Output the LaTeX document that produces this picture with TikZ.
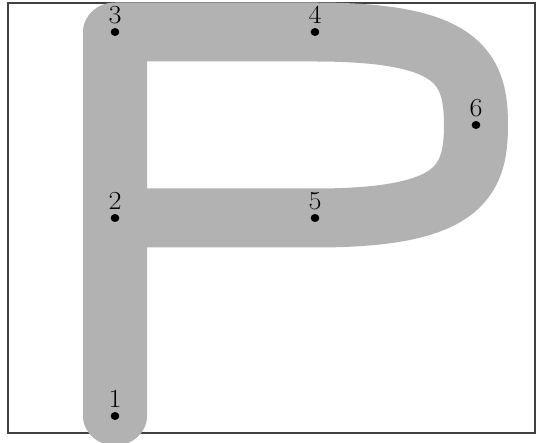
\documentclass[tikz,border=0pt]{standalone}
\begin{document}
\begin{tikzpicture}[x=1pt,y=-1pt,
  dotnode/.style={circle,fill=black,inner sep=0pt,minimum size=8pt},
  lbl/.style={anchor=base,inner sep=0pt,yshift=8.5pt,font=\fontsize{26}{30}\selectfont},
  stroke/.style={draw=black!75,line width=1.2pt},
  letterpath/.style={draw=gray!60,line width=59pt,line cap=round,line join=round}]
\useasboundingbox (0,0) rectangle (536,443);
\begin{scope}[transform canvas={xscale=1.085}]
  \draw[stroke] (7.4,3) rectangle (493.1,433);
  \coordinate (p1) at (106,416);
  \coordinate (p2) at (106,218);
  \coordinate (p3) at (106,32);
  \coordinate (p4) at (290.3,32);
  \coordinate (p5) at (290.3,218);
  \coordinate (p6) at (438.7,125);
  \draw[letterpath] (p1) -- (p2) -- (p3) -- (p4)
     .. controls (421,32) and (438.7,66) .. (p6)
     .. controls (438.7,184) and (421,218) .. (p5) -- (p2);
  \foreach \i in {1,...,6} {
    \node[dotnode] (d\i) at (p\i) {};
    \node[lbl] (l\i) at (p\i) {\i};
  }
\end{scope}
\end{tikzpicture}
\end{document}
